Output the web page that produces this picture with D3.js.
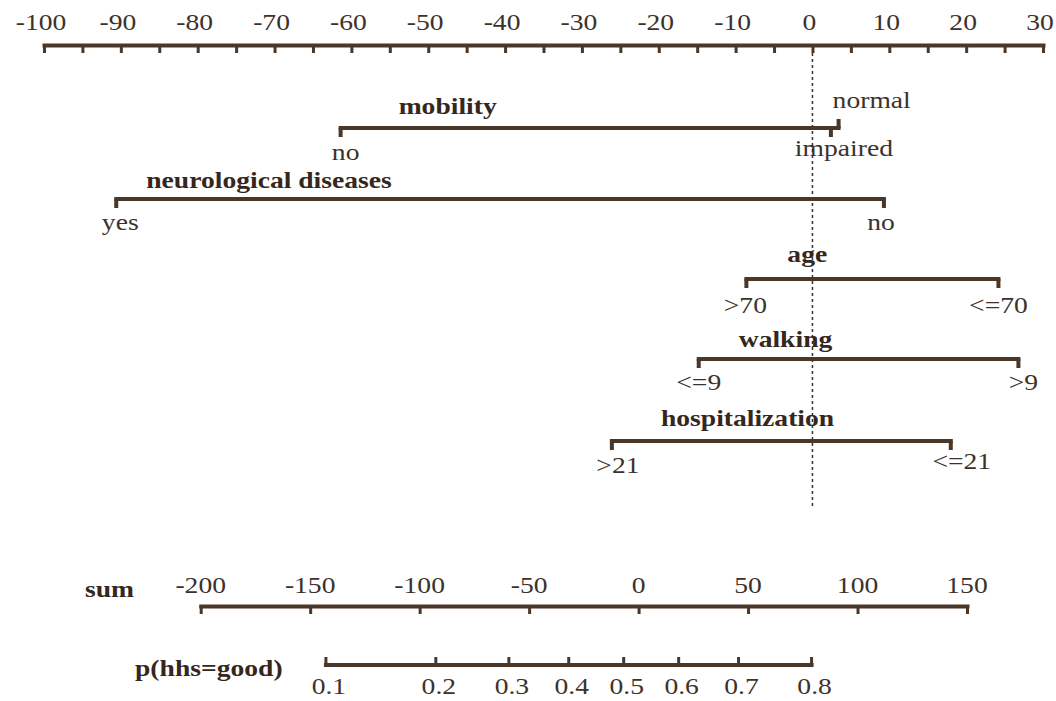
<!DOCTYPE html>
<html>
<head>
<meta charset="utf-8">
<script src="https://cdn.jsdelivr.net/npm/d3@7"></script>
<style>
  html, body { margin: 0; padding: 0; background: #ffffff; }
  svg { display: block; }
</style>
</head>
<body>
<svg id="chart" width="1056" height="701"></svg>
<script>
// ---------------- DATA ----------------
const pointTickLabels = [-100, -90, -80, -70, -60, -50, -40, -30, -20, -10, 0, 10, 20, 30];
const pointMinorTicks = [-100, -95, -90, -85, -80, -75, -70, -65, -60, -55, -50, -45, -40, -35, -30, -25, -20, -15, -10, -5, 0, 5, 10, 15, 20, 25, 30];

const variableNames = ["mobility", "neurological diseases", "age", "walking", "hospitalization"];
const mobilityLevels = ["no", "impaired", "normal"];
const mobilityPoints = [-61.4, 2.4, 3.4];
const neuroLevels = ["yes", "no"];
const neuroPoints = [-90.6, 9.3];
const ageLevels = [">70", "<=70"];
const agePoints = [-8.6, 24.2];
const walkingLevels = ["<=9", ">9"];
const walkingPoints = [-14.8, 26.8];
const hospLevels = [">21", "<=21"];
const hospPoints = [-26.1, 18.0];

const sumTickLabels = [-200, -150, -100, -50, 0, 50, 100, 150];
const probTickLabels = [0.1, 0.2, 0.3, 0.4, 0.5, 0.6, 0.7, 0.8];
// total points at linear predictor 0 and total points per logit unit
const sumAtLogitZero = -6.8;
const sumPerLogit = 61.9;

// ---------------- LAYOUT / STYLE ----------------
const W = 1056, H = 701;
const barColor = "#4a3728";
const textColor = "#3d322b";
const boldColor = "#35271c";
const fontFamily = "'Liberation Serif', 'Times New Roman', serif";
const fontSize = 24;
const stretch = 1.15;

const svg = d3.select("#chart");
svg.append("rect").attr("width", W).attr("height", H).attr("fill", "#ffffff");

const xPts = d3.scaleLinear().domain([-100, 30]).range([44, 1043]);
const xSum = d3.scaleLinear().domain([-200, 150]).range([200.7, 967]);
const logit = p => Math.log(p / (1 - p));
const xProb = p => xSum(sumAtLogitZero + sumPerLogit * logit(p));

function addText(g, x, y, str, opts = {}) {
  return g.append("text")
    .attr("transform", `translate(${x},${y}) scale(${stretch},1)`)
    .attr("text-anchor", opts.anchor || "middle")
    .attr("font-family", fontFamily)
    .attr("font-size", fontSize)
    .attr("font-weight", opts.bold ? "bold" : "normal")
    .attr("fill", opts.bold ? boldColor : textColor)
    .text(str);
}

function styleAxis(g) {
  g.select(".domain").attr("stroke", barColor).attr("stroke-width", 4).attr("stroke-linecap", "square");
  g.selectAll(".tick line").attr("stroke", barColor).attr("stroke-width", 3);
}

// ---------------- TOP POINTS AXIS ----------------
const axisTopY = 45;
const gTop = svg.append("g").attr("transform", `translate(0,${axisTopY})`);
gTop.call(d3.axisBottom(xPts).tickValues(pointMinorTicks).tickSizeInner(8).tickSizeOuter(0).tickFormat(""));
styleAxis(gTop);
gTop.selectAll(".tick text").remove();
const gTopLabels = svg.append("g");
pointTickLabels.forEach(v => addText(gTopLabels, xPts(v) - 3, 30, String(v)));

// reference line at 0 points
svg.append("line")
  .attr("x1", xPts(0)).attr("x2", xPts(0))
  .attr("y1", axisTopY + 8).attr("y2", 508)
  .attr("stroke", "#333333").attr("stroke-width", 1.5)
  .attr("stroke-dasharray", "3,3");

// ---------------- VARIABLE ROWS ----------------
const rows = [
  { name: variableNames[0], levels: mobilityLevels, pts: mobilityPoints },
  { name: variableNames[1], levels: neuroLevels, pts: neuroPoints },
  { name: variableNames[2], levels: ageLevels, pts: agePoints },
  { name: variableNames[3], levels: walkingLevels, pts: walkingPoints },
  { name: variableNames[4], levels: hospLevels, pts: hospPoints }
];
const rowY = [128, 199, 279, 359, 441];
const nameDx = [58, 30, 41, 40, 49];
const nameDy = [-14, -11, -17, -12, -15];
// label placement per row and level: dx, dy (baseline relative to bar), tick direction
const levelLayout = [
  [{ dx: 5, dy: 32, up: false }, { dx: 13, dy: 28, up: false }, { dx: -6, dy: -20, up: true, anchor: "start" }],
  [{ dx: 4, dy: 31, up: false }, { dx: -3, dy: 31, up: false }],
  [{ dx: -1, dy: 34, up: false }, { dx: 0, dy: 34, up: false }],
  [{ dx: 0, dy: 31, up: false }, { dx: 5, dy: 31, up: false }],
  [{ dx: 6, dy: 32, up: false }, { dx: 11, dy: 28, up: false }]
];

rows.forEach((row, i) => {
  const g = svg.append("g").attr("transform", `translate(0,${rowY[i]})`);
  const ext = d3.extent(row.pts);
  g.append("line")
    .attr("x1", xPts(ext[0])).attr("x2", xPts(ext[1]))
    .attr("y1", 0).attr("y2", 0)
    .attr("stroke", barColor).attr("stroke-width", 4).attr("stroke-linecap", "square");
  row.pts.forEach((p, j) => {
    const lay = levelLayout[i][j];
    g.append("line")
      .attr("x1", xPts(p)).attr("x2", xPts(p))
      .attr("y1", 0).attr("y2", lay.up ? -9 : 9)
      .attr("stroke", barColor).attr("stroke-width", 4);
    addText(g, xPts(p) + lay.dx, lay.dy, row.levels[j], { anchor: lay.anchor || "middle" });
  });
  addText(g, xPts(ext[0]) + nameDx[i], nameDy[i], row.name, { anchor: "start", bold: true });
});

// ---------------- SUM AXIS ----------------
const sumY = 606;
const gSum = svg.append("g").attr("transform", `translate(0,${sumY})`);
gSum.call(d3.axisBottom(xSum).tickValues(sumTickLabels).tickSizeInner(8).tickSizeOuter(0).tickFormat(""));
styleAxis(gSum);
gSum.selectAll(".tick text").remove();
sumTickLabels.forEach(v => addText(svg, xSum(v), 593, String(v)));
addText(svg, 85, 597, "sum", { anchor: "start", bold: true });

// ---------------- PROBABILITY AXIS ----------------
const probY = 665;
const gProb = svg.append("g");
gProb.append("line")
  .attr("x1", xProb(probTickLabels[0])).attr("x2", xProb(probTickLabels[probTickLabels.length - 1]))
  .attr("y1", probY).attr("y2", probY)
  .attr("stroke", barColor).attr("stroke-width", 4).attr("stroke-linecap", "square");
gProb.selectAll("line.ptick").data(probTickLabels).join("line")
  .attr("class", "ptick")
  .attr("x1", d => xProb(d)).attr("x2", d => xProb(d))
  .attr("y1", probY).attr("y2", probY - 8)
  .attr("stroke", barColor).attr("stroke-width", 3);
probTickLabels.forEach(v => addText(gProb, xProb(v) + 3, 694, String(v)));
addText(svg, 135, 676, "p(hhs=good)", { anchor: "start", bold: true });
</script>
</body>
</html>
